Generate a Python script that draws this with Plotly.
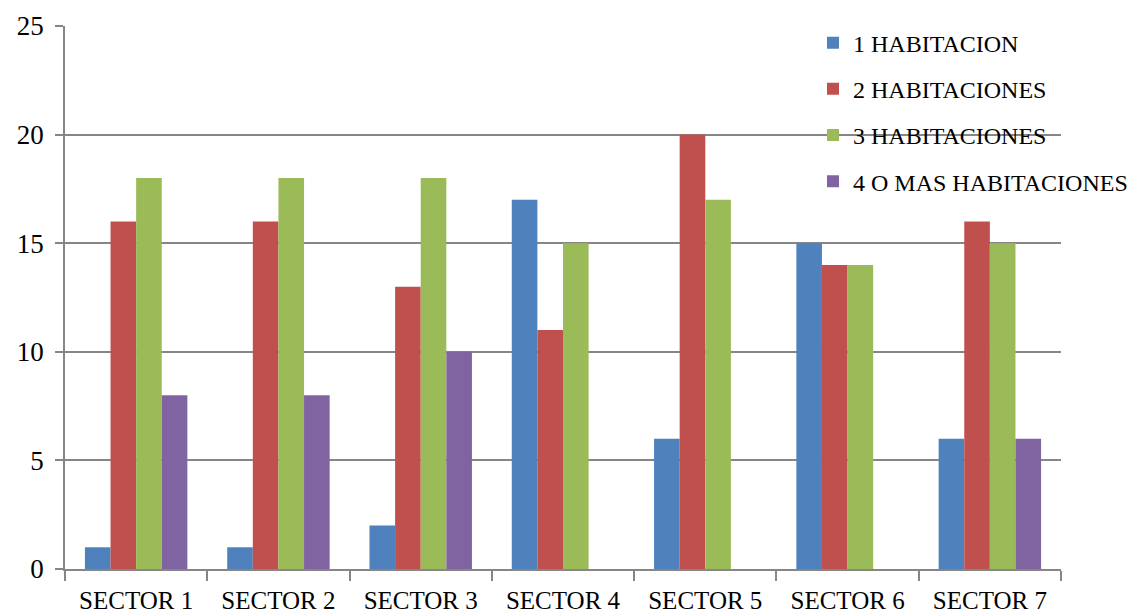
import plotly.graph_objects as go

categories = ["SECTOR 1", "SECTOR 2", "SECTOR 3", "SECTOR 4", "SECTOR 5", "SECTOR 6", "SECTOR 7"]
series_names = ["1 HABITACION", "2 HABITACIONES", "3 HABITACIONES", "4 O MAS HABITACIONES"]
hab1 = [1, 1, 2, 17, 6, 15, 6]
hab2 = [16, 16, 13, 11, 20, 14, 16]
hab3 = [18, 18, 18, 15, 17, 14, 15]
hab4 = [8, 8, 10, 0, 0, 0, 6]
colors = ["#4F81BD", "#C0504D", "#9BBB59", "#8064A2"]
y_ticks = [0, 5, 10, 15, 20, 25]

FONT = "Liberation Serif"
fig = go.Figure()
for i, (name, vals) in enumerate(zip(series_names, [hab1, hab2, hab3, hab4])):
    fig.add_trace(go.Bar(
        x=categories, y=vals, name=name, legendgroup=f"g{i}",
        marker=dict(color=colors[i], line=dict(width=0)),
    ))

fig.update_layout(
    width=1136, height=613,
    margin=dict(l=65, r=75, t=26, b=44, autoexpand=False),
    paper_bgcolor="white", plot_bgcolor="white",
    barmode="group", bargap=0.28, bargroupgap=0,
    font=dict(family=FONT, size=25, color="black"),
    legend=dict(
        x=0.751, y=1.01, xanchor="left", yanchor="top",
        bgcolor="rgba(0,0,0,0)", tracegroupgap=12,
        font=dict(family=FONT, size=24, color="black"),
    ),
    xaxis=dict(
        showline=True, linecolor="#868686", linewidth=1.5,
        ticks="outside", tickson="boundaries", ticklen=10, tickcolor="#868686",
        tickwidth=1.5, showgrid=False, tickfont=dict(size=25),
        ticklabelstandoff=8, automargin=False,
    ),
    yaxis=dict(
        range=[0, 25], tickvals=y_ticks,
        showline=True, linecolor="#868686", linewidth=1.5,
        ticks="outside", ticklen=8, tickcolor="#868686", tickwidth=1.5,
        showgrid=True, gridcolor="#868686", gridwidth=1.5,
        zeroline=False, tickfont=dict(size=27), ticklabelstandoff=6,
        automargin=False,
    ),
)
fig.write_html("out.html", config={"displayModeBar": False},
               post_script="document.body.style.margin='0';")
